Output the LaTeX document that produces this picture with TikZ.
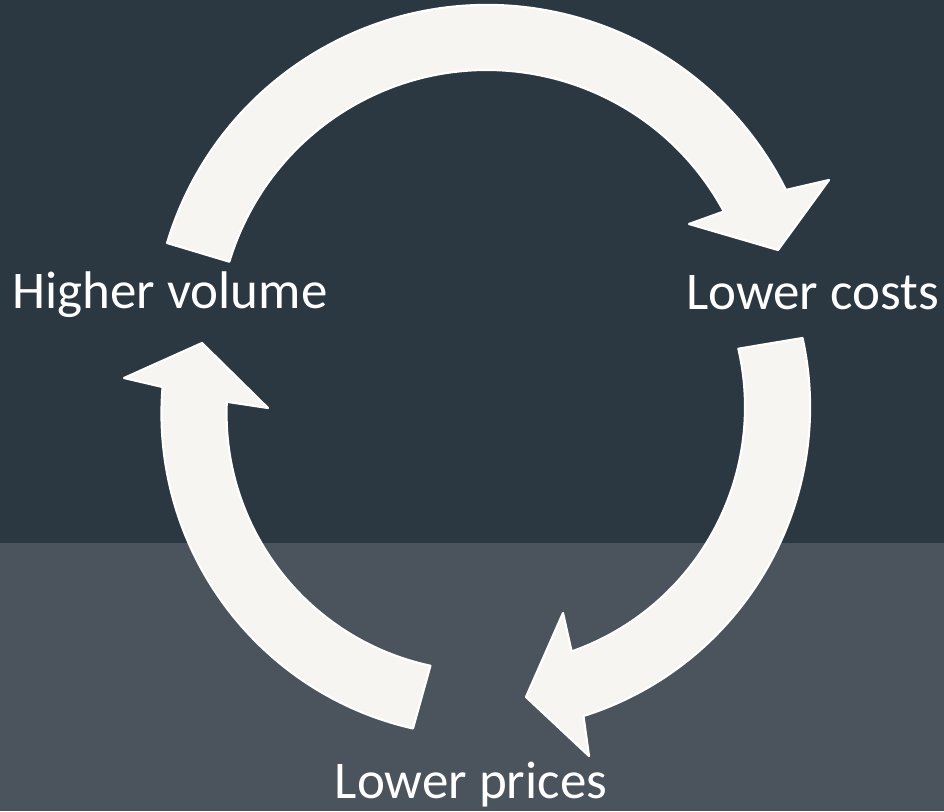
\documentclass[tikz,border=0pt]{standalone}
\usepackage{fontspec}
\setmainfont{Carlito}
\usetikzlibrary{calc}
\definecolor{bgtop}{HTML}{2C3841}
\definecolor{bgbot}{HTML}{4B545C}
\definecolor{arrowfill}{HTML}{F6F5F1}
\tikzset{
  cyclearrow/.style={fill=arrowfill, draw=white, line width=2.2pt, line join=round},
  lbl/.style={text=white, inner sep=0pt, anchor=base, font=\fontsize{53}{60}\selectfont}
}
\begin{document}
\begin{tikzpicture}[x=1pt,y=1pt]
  % background
  \fill[bgtop] (0,268) rectangle (944,811);
  \fill[bgbot] (0,0) rectangle (944,268);
  \useasboundingbox (0,0) rectangle (944,811);

  % centres
  \coordinate (T) at (487,472);
  \coordinate (R) at (486,404);
  \coordinate (L) at (484.5,397.5);

  % top arrow: Higher volume -> Lower costs
  \coordinate (tOb) at (829,631);
  \coordinate (tTip) at (778,561);
  \coordinate (tIb) at (689,587);
  \draw[cyclearrow] ($(T)+(163.3:334pt)$) arc[start angle=163.3, end angle=26.5, radius=334pt]
     -- (tOb) -- (tTip) -- (tIb)
     -- ($(T)+(28.3:269pt)$) arc[start angle=28.3, end angle=163.3, radius=269pt] -- cycle;

  % right arrow: Lower costs -> Lower prices
  \coordinate (rOb) at (589,55);
  \coordinate (rTip) at (526,114);
  \coordinate (rIb) at (563,198);
  \draw[cyclearrow] ($(R)+(12.3:324pt)$) arc[start angle=12.3, end angle=-72.5, radius=324pt]
     -- (rOb) -- (rTip) -- (rIb)
     -- ($(R)+(-70.7:259pt)$) arc[start angle=-70.7, end angle=13.0, radius=259pt] -- cycle;

  % left arrow: Lower prices -> Higher volume
  \coordinate (lOb) at (124,433);
  \coordinate (lTip) at (202,468);
  \coordinate (lIb) at (268,403);
  \draw[cyclearrow] ($(L)+(257.2:323pt)$) arc[start angle=257.2, end angle=175.3, radius=323pt]
     -- (lOb) -- (lTip) -- (lIb)
     -- ($(L)+(177.4:258pt)$) arc[start angle=177.4, end angle=257.9, radius=258pt] -- cycle;

  % labels
  \node[lbl] (hv) at (170,502) {Higher volume};
  \node[lbl] (lc) at (812.5,501) {Lower costs};
  \node[lbl] (lp) at (471,13) {Lower prices};
\end{tikzpicture}
\end{document}
